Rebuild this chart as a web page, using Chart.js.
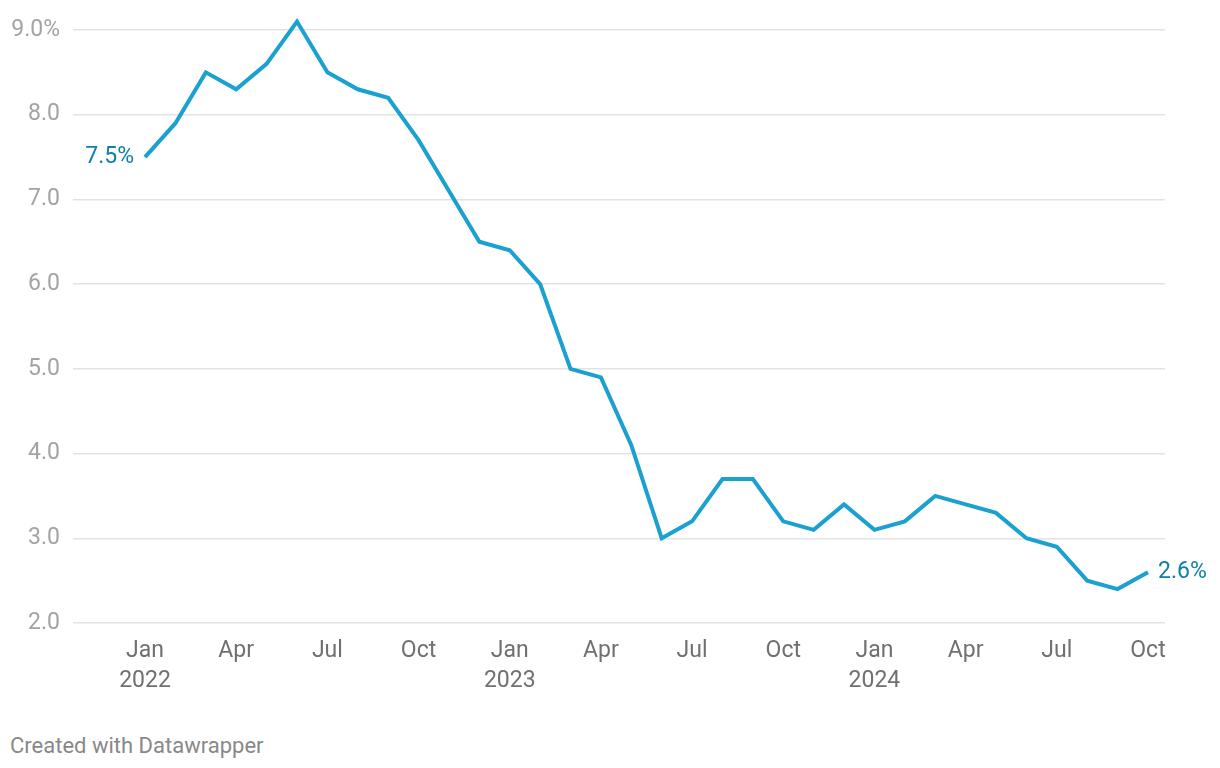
<!DOCTYPE html>
<html>
<head>
<meta charset="utf-8">
<script src="https://cdn.jsdelivr.net/npm/chart.js@4.4.1/dist/chart.umd.min.js"></script>
<style>
  html, body { margin: 0; padding: 0; background: #fff; }
  #wrap { position: relative; width: 1220px; height: 768px; }
  #footer {
    position: absolute; left: 10px; top: 733px;
    font-family: Roboto, sans-serif; font-size: 22px; color: #888;
  }
</style>
</head>
<body>
<div id="wrap">
  <canvas id="chart" width="1220" height="712"></canvas>
  <div id="footer">Created with Datawrapper</div>
</div>
<script>
// months from Jan 2022 to Oct 2024
const months = ['Jan','Feb','Mar','Apr','May','Jun','Jul','Aug','Sep','Oct','Nov','Dec'];
const startYear = 2022;
const rates = [
    7.5, 7.9, 8.5, 8.3, 8.6, 9.1, 8.5, 8.3, 8.2, 7.7, 7.1, 6.5,
    6.4, 6.0, 5.0, 4.9, 4.1, 3.0, 3.2, 3.7, 3.7, 3.2, 3.1, 3.4,
    3.1, 3.2, 3.5, 3.4, 3.3, 3.0, 2.9, 2.5, 2.4, 2.6
];
const yTicks = [2, 3, 4, 5, 6, 7, 8, 9];
const xTicks = [0, 3, 6, 9, 12, 15, 18, 21, 24, 27, 30, 33];

const lineColor = '#1ba1cf';
const labelColor = '#0d7fa9';

// label first and last value next to the line
const endLabels = {
    id: 'endLabels',
    afterDatasetsDraw(c) {
        const ctx = c.ctx;
        const x = c.scales.x, y = c.scales.y;
        const last = rates.length - 1;
        ctx.save();
        ctx.font = '23px Roboto, sans-serif';
        ctx.fillStyle = labelColor;
        ctx.textBaseline = 'middle';
        ctx.textAlign = 'right';
        ctx.fillText(rates[0].toFixed(1) + '%', x.getPixelForValue(0) - 11, y.getPixelForValue(rates[0]));
        ctx.textAlign = 'left';
        ctx.fillText(rates[last].toFixed(1) + '%', x.getPixelForValue(last) + 10, y.getPixelForValue(rates[last]));
        ctx.restore();
    }
};

const ctx = document.getElementById('chart').getContext('2d');
const chart = new Chart(ctx, {
    type: 'line',
    data: {
        datasets: [{
            data: rates.map((v, i) => ({ x: i, y: v })),
            borderColor: lineColor,
            borderWidth: 4,
            pointRadius: 0,
            tension: 0,
            clip: false
        }]
    },
    options: {
        responsive: false,
        animation: false,
        layout: { padding: { left: 0, right: 55, top: 30, bottom: 0 } },
        plugins: {
            legend: { display: false },
            tooltip: { enabled: false }
        },
        scales: {
            x: {
                type: 'linear',
                min: -2.37,
                max: 33.56,
                afterBuildTicks: (s) => { s.ticks = xTicks.map(v => ({ value: v })); },
                afterFit: (s) => { s.height = 89; },
                grid: { display: false, drawTicks: false },
                border: { display: false },
                ticks: {
                    autoSkip: false,
                    maxRotation: 0,
                    padding: 13,
                    color: '#707070',
                    font: { family: 'Roboto, sans-serif', size: 23, lineHeight: 1.3 },
                    callback: (v) => {
                        const m = months[v % 12];
                        return v % 12 === 0 ? [m, String(startYear + v / 12)] : m;
                    }
                }
            },
            y: {
                min: 2,
                max: 9,
                afterBuildTicks: (s) => { s.ticks = yTicks.map(v => ({ value: v })); },
                afterFit: (s) => { s.width = 73; },
                grid: { color: '#e3e3e3', lineWidth: 1.5, drawTicks: false },
                border: { display: false },
                ticks: {
                    padding: 13,
                    color: '#a3a3a3',
                    font: { family: 'Roboto, sans-serif', size: 23 },
                    callback: (v) => v === 9 ? v.toFixed(1) + '%' : v.toFixed(1)
                }
            }
        }
    },
    plugins: [endLabels]
});
</script>
</body>
</html>
